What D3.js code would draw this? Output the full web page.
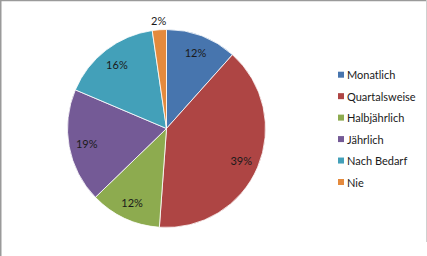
<!DOCTYPE html>
<html><head><meta charset="utf-8">
<script src="https://cdn.jsdelivr.net/npm/d3@7"></script>
<style>
html,body{margin:0;padding:0;background:#fff;}
svg{display:block;font-family:Lato,"Open Sans",sans-serif;}
</style></head>
<body>
<svg id="c" width="427" height="256"></svg>
<script>
const categories = ["Monatlich","Quartalsweise","Halbjährlich","Jährlich","Nach Bedarf","Nie"];
const values = [11.6, 39.5, 11.6, 18.6, 16.3, 2.3];
const labels = ["12%","39%","12%","19%","16%","2%"];
const colors = ["#4775AE","#AE4544","#8DAB4F","#745A96","#43A0B9","#E48A3D"];

const svg = d3.select("#c");
// frame
svg.append("line").attr("x1",0).attr("x2",427).attr("y1",0.5).attr("y2",0.5).attr("stroke","#9a9a9a").attr("stroke-width",1.5);
svg.append("line").attr("x1",0.75).attr("x2",0.75).attr("y1",0).attr("y2",256).attr("stroke","#9a9a9a").attr("stroke-width",1.5);
svg.append("line").attr("x1",426.5).attr("x2",426.5).attr("y1",0).attr("y2",242).attr("stroke","#d0d0d0").attr("stroke-width",1);

const cx = 166.5, cy = 128.5, r = 99;
const pie = d3.pie().sort(null).value(d => d);
const arcs = pie(values);
const arc = d3.arc().innerRadius(0).outerRadius(r);
const labelArc = d3.arc().innerRadius(r*0.82).outerRadius(r*0.82);
const outArc = d3.arc().innerRadius(r+9).outerRadius(r+9);

const g = svg.append("g").attr("transform",`translate(${cx},${cy})`);
g.selectAll("path").data(arcs).join("path")
  .attr("d",arc).attr("fill",(d,i)=>colors[i])
  .attr("stroke","#fff").attr("stroke-width",0.8);

g.selectAll("text").data(arcs).join("text")
  .attr("transform",(d,i)=>`translate(${(i===5?outArc:labelArc).centroid(d)})`)
  .attr("text-anchor","middle").attr("dominant-baseline","central")
  .attr("font-size",11).attr("fill","#1a1a1a")
  .text((d,i)=>labels[i]);

const legendY = d3.scalePoint().domain(categories).range([74.7,182]);
const lg = svg.append("g");
const rows = lg.selectAll("g").data(categories).join("g")
  .attr("transform",d=>`translate(338,${legendY(d)})`);
rows.append("rect").attr("x",0).attr("y",-3).attr("width",6).attr("height",6)
  .attr("fill",(d,i)=>colors[i]);
rows.append("text").attr("x",9).attr("y",0).attr("dominant-baseline","central")
  .attr("font-size",11).attr("fill","#1a1a1a").text(d=>d);
</script>
</body></html>
